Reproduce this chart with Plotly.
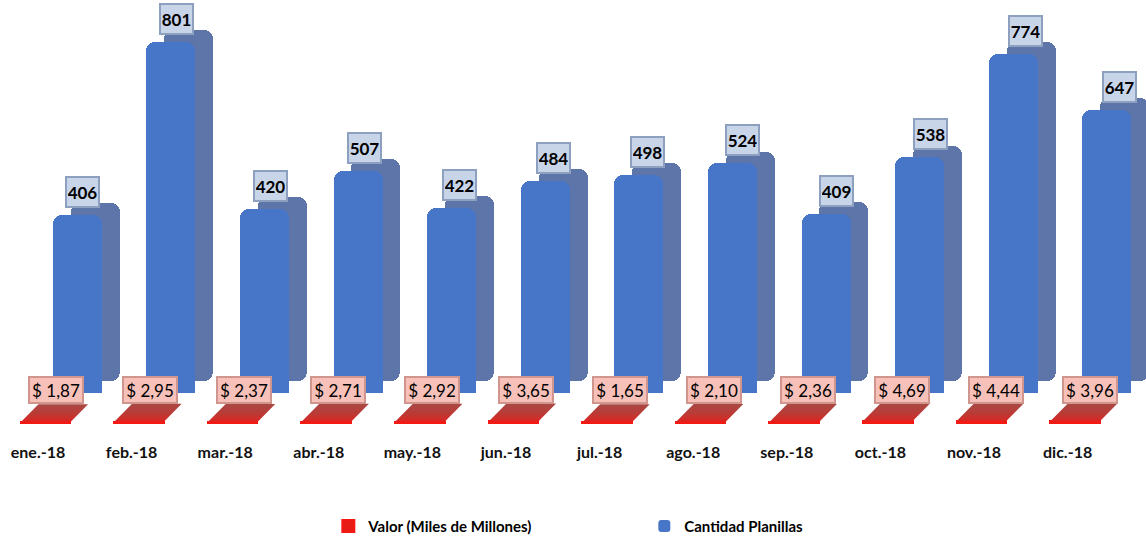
import plotly.graph_objects as go

meses = ["ene.-18", "feb.-18", "mar.-18", "abr.-18", "may.-18", "jun.-18",
         "jul.-18", "ago.-18", "sep.-18", "oct.-18", "nov.-18", "dic.-18"]
planillas = [406, 801, 420, 507, 422, 484, 498, 524, 409, 538, 774, 647]
valor = [1.87, 2.95, 2.37, 2.71, 2.92, 3.65, 1.65, 2.10, 2.36, 4.69, 4.44, 3.96]
valor_txt = ["$ 1,87", "$ 2,95", "$ 2,37", "$ 2,71", "$ 2,92", "$ 3,65",
             "$ 1,65", "$ 2,10", "$ 2,36", "$ 4,69", "$ 4,44", "$ 3,96"]

idx = list(range(len(meses)))

# ---- styling constants (pseudo-3D look) ----
STEP = 93.6                 # px per category
BLUE_OFF = 0.42
BLUE_W = 0.525
DEPTH_DX = 0.19
DEPTH_DY = 27
RED_BASE = -68.5
RED_OFF = 0.08
RED_W = 0.53
RED_DX = 0.19
RED_DEPTH = 41

fig = go.Figure()

# blue depth (side) face
fig.add_trace(go.Bar(
    x=[i + BLUE_OFF + DEPTH_DX for i in idx], y=planillas, base=[DEPTH_DY] * len(idx),
    width=BLUE_W, marker=dict(color="#5d75a9", line=dict(width=0), cornerradius=9),
    showlegend=False, hoverinfo="skip"))
# blue front face
fig.add_trace(go.Bar(
    x=[i + BLUE_OFF for i in idx], y=planillas, width=BLUE_W,
    name="Cantidad Planillas",
    marker=dict(color="#4775c7", line=dict(width=0), cornerradius=9),
    hoverinfo="skip"))
# red front face (thin, value-height bar)
fig.add_trace(go.Bar(
    x=[i + RED_OFF for i in idx], y=valor, base=[RED_BASE] * len(idx), width=RED_W,
    name="Valor (Miles de Millones)",
    marker=dict(color="#e81c16", line=dict(width=2, color="#f41a14")),
    hoverinfo="skip"))

# red top faces (parallelograms)
px, py = [], []
for i, v in zip(idx, valor):
    xl = i + RED_OFF - RED_W / 2
    xr = i + RED_OFF + RED_W / 2
    b = RED_BASE + v
    px += [xl, xr, xr + RED_DX, xl + RED_DX, xl, None]
    py += [b, b, b + RED_DEPTH, b + RED_DEPTH, b, None]
fig.add_trace(go.Scatter(
    x=px, y=py, mode="lines", fill="toself", line=dict(width=0),
    fillgradient=dict(type="vertical",
                      colorscale=[[0, "#f01616"], [0.12, "#d42a26"], [0.5, "#b83c38"], [1, "#a84a46"]]),
    showlegend=False, hoverinfo="skip"))

annotations = []
for i, v in zip(idx, planillas):
    annotations.append(dict(
        x=i + (44 + 0.7 * i) / STEP, y=v, xref="x", yref="y", text="<b>%d</b>" % v,
        showarrow=False, yanchor="bottom", yshift=7, width=29, height=26,
        font=dict(family="Lato", size=17, color="#000000"),
        bgcolor="#c8d4e8", bordercolor="#8ea0c0", borderwidth=2, borderpad=1))
for i, t in zip(idx, valor_txt):
    annotations.append(dict(
        x=i + (17.5 + 0.4 * i) / STEP, y=RED_BASE, xref="x", yref="y", text=t,
        showarrow=False, yanchor="middle", yshift=33, width=48, height=20,
        font=dict(family="Lato", size=17, color="#000000"),
        bgcolor="#f7c1b9", bordercolor="#d0968e", borderwidth=2, borderpad=2))

fig.update_layout(
    width=1146, height=537,
    margin=dict(l=0, r=0, t=0, b=96),
    paper_bgcolor="white", plot_bgcolor="white",
    barmode="overlay", bargap=0,
    hovermode=False,
    annotations=annotations,
    xaxis=dict(range=[-38 / STEP, -38 / STEP + 1146 / STEP], tickmode="array", tickvals=idx,
               ticktext=["<b>%s</b>" % m for m in meses],
               showgrid=False, zeroline=False, showline=False, ticks="",
               tickfont=dict(family="Lato", size=16, color="#111111")),
    yaxis=dict(range=[-109.6, 897.2], visible=False, showgrid=False, zeroline=False),
    legend=dict(orientation="h", traceorder="reversed",
                x=0.2865, xanchor="left", y=0.020, yanchor="middle", yref="container",
                entrywidth=271, entrywidthmode="pixels",
                font=dict(family="Lato", size=15, color="#000000", weight="bold")),
)

fig.write_html("out.html", config={"displayModeBar": False},
               post_script="document.body.style.margin='0';")
